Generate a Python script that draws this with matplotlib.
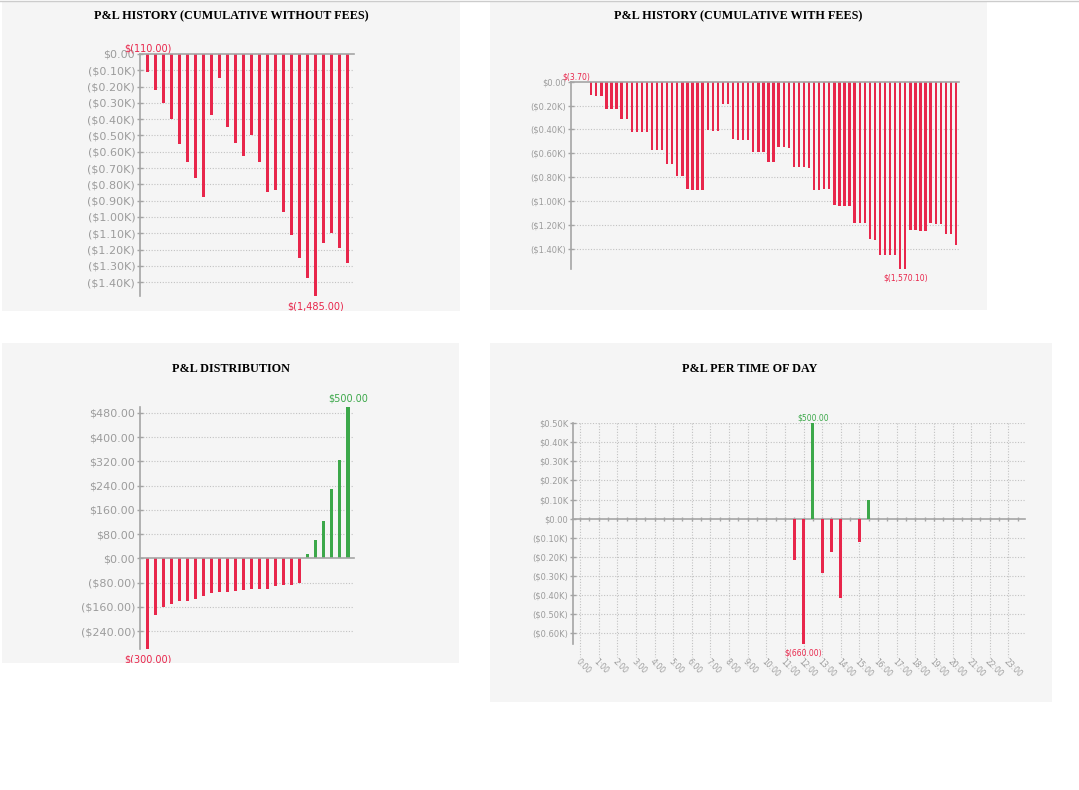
import numpy as np
import matplotlib
matplotlib.use('Agg')
import matplotlib.pyplot as plt
from matplotlib.patches import Rectangle
from matplotlib.lines import Line2D

W, H = 1079, 790
RED = '#e8264b'
GREEN = '#3ca84a'
GRAY = '#9c9c9c'
AXIS = '#a5a5a5'
GRID = '#c2c2c2'
PANEL = '#f5f5f5'

# cumulative P&L per trade, no fees
cum_no_fees = [-110, -220, -300, -400, -550, -660, -760, -875, -375, -145,
               -445, -545, -625, -500, -660, -845, -835, -970, -1110, -1250,
               -1375, -1485, -1160, -1100, -1190, -1280]

# cumulative P&L per fill, with fees
cum_with_fees = [-3.7, -3.7, -3.7,
                 -114, -117, -117, -225, -225, -225, -314, -314, -417, -417,
                 -422, -422, -572, -572, -572, -686, -689, -786, -786, -900,
                 -903, -906, -908, -408, -411, -411, -183, -183, -483, -486,
                 -489, -489, -589, -592, -592,
                 -675, -675, -550, -550, -553, -714, -714, -717, -722, -906,
                 -908, -894, -897, -1036, -1039, -1039, -1042, -1181, -1183,
                 -1183, -1319, -1322, -1447, -1447, -1450, -1450, -1566,
                 -1570.1, -1242, -1242, -1247, -1247, -1186, -1189, -1189,
                 -1278, -1278, -1367]

# sorted trade P&L
distribution = [-300, -187, -160, -149, -140, -140, -134, -125, -113, -112,
                -110, -108, -104, -100, -100, -100, -91, -88, -88, -80,
                14, 59, 124, 228, 323, 500]

# P&L per half-hour slot
tod_hours = [11.5, 12.0, 12.5, 13.0, 13.5, 14.0, 15.0, 15.5]
tod_pnl = [-215, -660, 500, -285, -175, -415, -125, 95]
hour_labels = ['%d:00' % h for h in range(24)]

ticks_no_fees = [0, -100, -200, -300, -400, -500, -600, -700, -800, -900,
                 -1000, -1100, -1200, -1300, -1400]
ticks_with_fees = [0, -200, -400, -600, -800, -1000, -1200, -1400]
ticks_dist = [480, 400, 320, 240, 160, 80, 0, -80, -160, -240]
ticks_tod = [500, 400, 300, 200, 100, 0, -100, -200, -300, -400, -500, -600]


def k_fmt(v):
    if v == 0:
        return '$0.00'
    s = '$%.2fK' % (abs(v) / 1000)
    return s if v > 0 else '(%s)' % s


def d_fmt(v):
    if v == 0:
        return '$0.00'
    s = '$%.2f' % abs(v)
    return s if v > 0 else '(%s)' % s


def val_fmt(v):
    s = '{:,.2f}'.format(abs(v))
    return '$' + s if v >= 0 else '$(' + s + ')'


fig = plt.figure(figsize=(W / 100, H / 100), dpi=100)
fig.add_artist(Line2D([0, 1], [1 - 1 / H, 1 - 1 / H], color='#cccccc', lw=1))

panels = {}
for name, (x0, y0, x1, y1) in {'p1': (2, 2, 460, 311), 'p2': (490, 2, 987, 310),
                               'p3': (2, 343, 459, 663), 'p4': (490, 343, 1052, 702)}.items():
    r = Rectangle((x0 / W, 1 - y1 / H), (x1 - x0) / W, (y1 - y0) / H,
                  transform=fig.transFigure, facecolor=PANEL, edgecolor='none', zorder=-10)
    fig.add_artist(r)
    panels[name] = r


def add_ax(left, top, right, bottom):
    return fig.add_axes([left / W, 1 - bottom / H, (right - left) / W, (bottom - top) / H])


def title(xc, y, text):
    fig.text(xc / W, 1 - y / H, text, family='Liberation Serif', weight='bold',
             size=8.7, ha='center', va='center')


def style(ax, ticks, labels, fs):
    ax.set_facecolor('none')
    for s in ['top', 'right', 'bottom']:
        ax.spines[s].set_visible(False)
    ax.spines['left'].set_color(AXIS)
    ax.spines['left'].set_linewidth(1.2)
    ax.set_yticks(ticks)
    ax.set_yticklabels(labels)
    ax.tick_params(axis='y', direction='inout', length=5, width=1, color=AXIS,
                   labelcolor=GRAY, labelsize=fs, pad=1)
    ax.tick_params(axis='x', length=0)
    ax.set_xticks([])
    for t in ticks:
        if t != 0:
            ax.axhline(t, color=GRID, lw=0.8, ls=(0, (1, 1.5)), zorder=0)
    ax.axhline(0, color=AXIS, lw=1.2, clip_on=False, zorder=3)


def mark_extremes(ax, vals, xs, fs, panel, off_top=1, off_bot=3):
    vals = np.asarray(vals)
    imax = int(np.argmax(vals))
    imin = int(np.argmin(vals))
    vmax, vmin = vals[imax], vals[imin]
    t1 = ax.annotate(val_fmt(vmax), (xs[imax], max(vmax, 0)), xytext=(0, off_top),
                     textcoords='offset points', ha='center', va='bottom',
                     color=GREEN if vmax > 0 else RED, fontsize=fs,
                     annotation_clip=False, zorder=5)
    t2 = ax.annotate(val_fmt(vmin), (xs[imin], min(vmin, 0)), xytext=(0, -off_bot),
                     textcoords='offset points', ha='center', va='top',
                     color=GREEN if vmin > 0 else RED, fontsize=fs,
                     annotation_clip=False, zorder=5)
    for t in (t1, t2):
        t.set_clip_on(True)
        t.set_clip_path(panel)


# panel 1
ax1 = add_ax(140, 54, 354, 296)
x1 = np.arange(len(cum_no_fees))
ax1.bar(x1, cum_no_fees, width=0.38, color=RED)
ax1.set_xlim(-0.95, 25.8)
ax1.set_ylim(-1485, 0)
style(ax1, ticks_no_fees, [k_fmt(t) for t in ticks_no_fees], 8)
mark_extremes(ax1, cum_no_fees, x1, 7, panels['p1'], off_top=0.5, off_bot=4)
title(231, 16, 'P&L HISTORY (CUMULATIVE WITHOUT FEES)')

# panel 2
ax2 = add_ax(571, 81.7, 959, 269.3)
x2 = np.arange(len(cum_with_fees))
ax2.bar(x2, cum_with_fees, width=0.46, color=RED)
ax2.set_xlim(-0.99, 75.6)
ax2.set_ylim(-1570.1, 0)
style(ax2, ticks_with_fees, [k_fmt(t) for t in ticks_with_fees], 6)
mark_extremes(ax2, cum_with_fees, x2, 5.5, panels['p2'], off_top=0.5, off_bot=3)
title(738, 16, 'P&L HISTORY (CUMULATIVE WITH FEES)')

# panel 3
ax3 = add_ax(140, 406.7, 354, 649.3)
x3 = np.arange(len(distribution))
ax3.bar(x3, distribution, width=0.38,
        color=[GREEN if v > 0 else RED for v in distribution])
ax3.set_xlim(-0.95, 25.75)
ax3.set_ylim(-300, 500)
style(ax3, ticks_dist, [d_fmt(t) for t in ticks_dist], 8)
mark_extremes(ax3, distribution, x3, 7, panels['p3'], off_top=2, off_bot=4)
title(231, 369, 'P&L DISTRIBUTION')

# panel 4
ax4 = add_ax(573.3, 423.3, 1025, 644.3)
ax4.bar(tod_hours, tod_pnl, width=0.15,
        color=[GREEN if v > 0 else RED for v in tod_pnl], zorder=4)
ax4.set_xlim(-0.36, 23.89)
ax4.set_ylim(-660, 500)
style(ax4, ticks_tod, [k_fmt(t) for t in ticks_tod], 6)
ax4.set_xticks(range(24))
ax4.set_xticklabels(hour_labels, rotation=-45, ha='left', va='top',
                    rotation_mode='anchor', fontsize=5.5, color=GRAY)
ax4.tick_params(axis='x', length=0, pad=9)
# vertical dotted hour lines, running a little below the plot down to the labels
ax4.vlines(range(24), 500, -725, color=GRID, lw=0.8, ls=(0, (1, 1.5)),
           zorder=0, clip_on=False)
slots = np.arange(0, 24, 0.5)
ax4.plot(slots, np.zeros_like(slots), ls='none', marker='|', ms=3,
         color=AXIS, zorder=3)
mark_extremes(ax4, tod_pnl, tod_hours, 5.5, panels['p4'], off_top=0.5, off_bot=3)
title(750, 369, 'P&L PER TIME OF DAY')

fig.savefig('out.png', dpi=100)
